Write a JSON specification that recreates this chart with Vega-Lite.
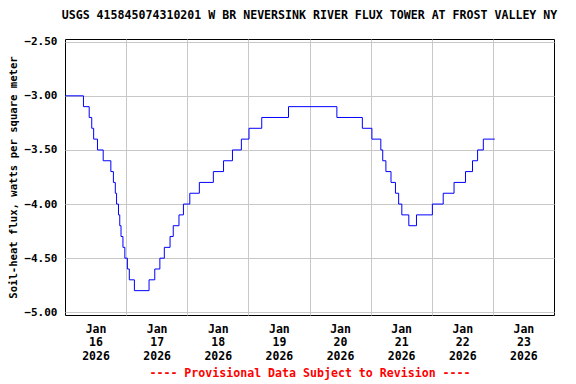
{
  "$schema": "https://vega.github.io/schema/vega-lite/v6.json",
  "autosize": "none",
  "width": 489,
  "height": 276,
  "padding": {"left": 65, "top": 39, "right": 22, "bottom": 69},
  "background": "white",
  "title": {
    "text": "USGS 415845074310201 W BR NEVERSINK RIVER FLUX TOWER AT FROST VALLEY NY",
    "font": "DejaVu Sans Mono",
    "fontSize": 11.6,
    "fontWeight": "bold",
    "color": "black",
    "anchor": "middle",
    "offset": 14
  },
  "config": {
    "view": {"stroke": "black", "strokeWidth": 1}
  },
  "data": {
    "values": [
      {"time": "2026-01-16T00:00", "flux": -3.0},
      {"time": "2026-01-16T07:15", "flux": -3.1},
      {"time": "2026-01-16T09:30", "flux": -3.2},
      {"time": "2026-01-16T10:30", "flux": -3.3},
      {"time": "2026-01-16T11:15", "flux": -3.4},
      {"time": "2026-01-16T12:45", "flux": -3.5},
      {"time": "2026-01-16T15:00", "flux": -3.6},
      {"time": "2026-01-16T18:00", "flux": -3.7},
      {"time": "2026-01-16T19:00", "flux": -3.8},
      {"time": "2026-01-16T19:45", "flux": -3.9},
      {"time": "2026-01-16T20:15", "flux": -4.0},
      {"time": "2026-01-16T21:00", "flux": -4.1},
      {"time": "2026-01-16T21:30", "flux": -4.2},
      {"time": "2026-01-16T22:00", "flux": -4.3},
      {"time": "2026-01-16T22:45", "flux": -4.4},
      {"time": "2026-01-16T23:30", "flux": -4.5},
      {"time": "2026-01-17T00:30", "flux": -4.6},
      {"time": "2026-01-17T01:15", "flux": -4.7},
      {"time": "2026-01-17T03:15", "flux": -4.8},
      {"time": "2026-01-17T09:00", "flux": -4.7},
      {"time": "2026-01-17T11:15", "flux": -4.6},
      {"time": "2026-01-17T13:15", "flux": -4.5},
      {"time": "2026-01-17T15:00", "flux": -4.4},
      {"time": "2026-01-17T17:15", "flux": -4.3},
      {"time": "2026-01-17T18:30", "flux": -4.2},
      {"time": "2026-01-17T20:45", "flux": -4.1},
      {"time": "2026-01-17T22:30", "flux": -4.0},
      {"time": "2026-01-18T01:00", "flux": -3.9},
      {"time": "2026-01-18T04:45", "flux": -3.8},
      {"time": "2026-01-18T10:15", "flux": -3.7},
      {"time": "2026-01-18T14:15", "flux": -3.6},
      {"time": "2026-01-18T17:45", "flux": -3.5},
      {"time": "2026-01-18T21:15", "flux": -3.4},
      {"time": "2026-01-19T00:15", "flux": -3.3},
      {"time": "2026-01-19T05:15", "flux": -3.2},
      {"time": "2026-01-19T15:45", "flux": -3.1},
      {"time": "2026-01-20T10:45", "flux": -3.2},
      {"time": "2026-01-20T20:45", "flux": -3.3},
      {"time": "2026-01-21T00:30", "flux": -3.4},
      {"time": "2026-01-21T04:00", "flux": -3.5},
      {"time": "2026-01-21T04:45", "flux": -3.6},
      {"time": "2026-01-21T06:00", "flux": -3.7},
      {"time": "2026-01-21T08:00", "flux": -3.8},
      {"time": "2026-01-21T09:45", "flux": -3.9},
      {"time": "2026-01-21T11:00", "flux": -4.0},
      {"time": "2026-01-21T12:15", "flux": -4.1},
      {"time": "2026-01-21T15:00", "flux": -4.2},
      {"time": "2026-01-21T18:00", "flux": -4.1},
      {"time": "2026-01-22T00:15", "flux": -4.0},
      {"time": "2026-01-22T04:30", "flux": -3.9},
      {"time": "2026-01-22T08:45", "flux": -3.8},
      {"time": "2026-01-22T13:15", "flux": -3.7},
      {"time": "2026-01-22T16:00", "flux": -3.6},
      {"time": "2026-01-22T18:00", "flux": -3.5},
      {"time": "2026-01-22T20:15", "flux": -3.4},
      {"time": "2026-01-23T00:45", "flux": -3.4}
    ]
  },
  "mark": {"type": "line", "interpolate": "step-after", "color": "#0000ff", "strokeWidth": 1},
  "encoding": {
    "x": {
      "field": "time",
      "type": "temporal",
      "scale": {"domain": [{"year": 2026, "month": 1, "date": 16}, {"year": 2026, "month": 1, "date": 24}]},
      "axis": {
        "values": [
          {"year": 2026, "month": 1, "date": 17},
          {"year": 2026, "month": 1, "date": 18},
          {"year": 2026, "month": 1, "date": 19},
          {"year": 2026, "month": 1, "date": 20},
          {"year": 2026, "month": 1, "date": 21},
          {"year": 2026, "month": 1, "date": 22},
          {"year": 2026, "month": 1, "date": 23},
          {"year": 2026, "month": 1, "date": 24}
        ],
        "labelExpr": "[timeFormat(datum.value - 86400000, '%b'), timeFormat(datum.value - 86400000, '%d'), timeFormat(datum.value - 86400000, '%Y')]",
        "labelOffset": -30.6,
        "labelFlush": false,
        "labelOverlap": false,
        "labelBound": false,
        "labelFont": "DejaVu Sans Mono",
        "labelFontSize": 11.5,
        "labelFontWeight": "bold",
        "labelColor": "black",
        "labelLineHeight": 13.5,
        "labelPadding": 8,
        "labelAngle": 0,
        "ticks": false,
        "domain": false,
        "grid": true,
        "gridColor": {"condition": {"test": "datum.value >= datetime(2026, 0, 24)", "value": "transparent"}, "value": "#c8c8c8"},
        "gridWidth": 1,
        "title": "---- Provisional Data Subject to Revision ----",
        "titleColor": "#ff0000",
        "titleFont": "DejaVu Sans Mono",
        "titleFontSize": 11.6,
        "titleFontWeight": "bold",
        "titlePadding": 6
      }
    },
    "y": {
      "field": "flux",
      "type": "quantitative",
      "scale": {"domain": [-5.025, -2.475], "nice": false, "zero": false},
      "axis": {
        "values": [-2.5, -3.0, -3.5, -4.0, -4.5, -5.0],
        "format": ".2f",
        "labelFont": "DejaVu Sans Mono",
        "labelFontSize": 11,
        "labelFontWeight": "bold",
        "labelColor": "black",
        "labelPadding": 8,
        "ticks": false,
        "domain": false,
        "grid": true,
        "gridColor": "#c8c8c8",
        "gridWidth": 1,
        "title": "Soil-heat flux, watts per square meter",
        "titleFont": "DejaVu Sans Mono",
        "titleFontSize": 10.6,
        "titleFontWeight": "bold",
        "titleColor": "black",
        "titlePadding": 5
      }
    }
  }
}
